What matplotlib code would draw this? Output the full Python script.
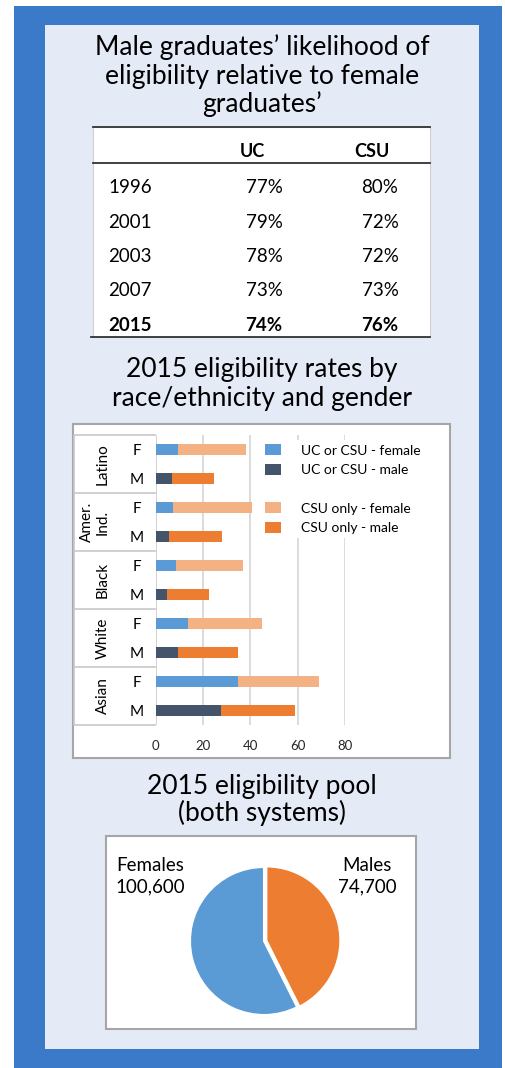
import matplotlib.pyplot as plt
import matplotlib.patches as mpatches
from matplotlib.transforms import blended_transform_factory
import numpy as np

plt.rcParams["font.family"] = ["Lato", "DejaVu Sans"]

# table data
years = ["1996", "2001", "2003", "2007", "2015"]
uc_ratio = ["77%", "79%", "78%", "73%", "74%"]
csu_ratio = ["80%", "72%", "72%", "73%", "76%"]

# bar chart data (percent eligible)
groups = ["Latino", "Amer.\nInd.", "Black", "White", "Asian"]
genders = ["F", "M"]
uc_female = [9.6, 7.5, 8.6, 13.8, 34.8]
uc_male = [6.8, 5.6, 4.6, 9.6, 27.7]
csu_female = [28.4, 33.2, 28.3, 31.1, 34.4]
csu_male = [17.7, 22.3, 17.9, 25.2, 31.2]
xticks = [0, 20, 40, 60, 80]

# pie data
pool_labels = ["Males", "Females"]
pool_values = [74700, 100600]

W, H = 506, 1068
BLUE = "#3B7AC8"
PANEL = "#E4EAF6"
C_UCF, C_UCM = "#5B9BD5", "#44546A"
C_CSUF, C_CSUM = "#F4B183", "#ED7D31"

fig = plt.figure(figsize=(W / 100, H / 100), dpi=100)
fig.patch.set_facecolor("white")


def px_axes(x0, y0, x1, y1):
    return fig.add_axes([x0 / W, 1 - y1 / H, (x1 - x0) / W, (y1 - y0) / H])


bg = px_axes(0, 0, W, H)
bg.set_xlim(0, W)
bg.set_ylim(H, 0)
bg.axis("off")

bg.add_patch(mpatches.Rectangle((14, 6), 488, 1062, color=BLUE, lw=0))
bg.add_patch(mpatches.Rectangle((45, 25), 434, 1024, color=PANEL, lw=0))

TITLE_FS = 19

# ---- title 1 + table
for txt, yb in zip(["Male graduates\u2019 likelihood of",
                    "eligibility relative to female",
                    "graduates\u2019"], [55, 84, 112]):
    bg.text(262, yb, txt, ha="center", va="baseline", fontsize=TITLE_FS)

bg.add_patch(mpatches.Rectangle((93, 127), 337, 210, facecolor="white",
                                edgecolor="#D0D0D0", lw=0.8))
bg.plot([93, 430], [127, 127], color="#333333", lw=1.3)
bg.plot([93, 430], [163, 163], color="#333333", lw=1.3)
bg.plot([91, 430], [337, 337], color="#333333", lw=1.3)
bg.text(252, 157, "UC", ha="center", va="baseline", fontsize=13, fontweight="bold")
bg.text(372, 157, "CSU", ha="center", va="baseline", fontsize=13, fontweight="bold")
row_y = np.linspace(193, 331, len(years))
for i, (yr, u, c) in enumerate(zip(years, uc_ratio, csu_ratio)):
    fw = "bold" if i == len(years) - 1 else "normal"
    bg.text(108, row_y[i], yr, ha="left", va="baseline", fontsize=13.5, fontweight=fw)
    bg.text(264, row_y[i], u, ha="center", va="baseline", fontsize=13.5, fontweight=fw)
    bg.text(380, row_y[i], c, ha="center", va="baseline", fontsize=13.5, fontweight=fw)

# ---- title 2 + bar chart
bg.text(262, 377, "2015 eligibility rates by", ha="center", va="baseline", fontsize=TITLE_FS)
bg.text(262, 406, "race/ethnicity and gender", ha="center", va="baseline", fontsize=TITLE_FS)
bg.add_patch(mpatches.Rectangle((73, 424), 377, 334, facecolor="white",
                                edgecolor="#A6A6A6", lw=1.5))

ax = px_axes(155.7, 435, 345, 725)
ax.set_facecolor("none")
n = len(groups)
y_f = np.arange(n) * 2
y_m = y_f + 1
bh = 0.38
b1 = ax.barh(y_f, uc_female, height=bh, color=C_UCF, zorder=3)
b2 = ax.barh(y_m, uc_male, height=bh, color=C_UCM, zorder=3)
b3 = ax.barh(y_f, csu_female, left=uc_female, height=bh, color=C_CSUF, zorder=3)
b4 = ax.barh(y_m, csu_male, left=uc_male, height=bh, color=C_CSUM, zorder=3)
ax.set_xlim(0, 80)
ax.set_ylim(2 * n - 0.5, -0.5)
ax.set_xticks(xticks)
ax.set_xticklabels([str(t) for t in xticks], fontsize=9.5, color="#262626")
ax.tick_params(axis="x", length=0, pad=11)
ax.set_yticks(np.arange(2 * n))
ax.set_yticklabels(genders * n, fontsize=11)
ax.tick_params(axis="y", length=0, pad=13.5)
for lbl in ax.get_yticklabels():
    lbl.set_ha("center")
ax.grid(axis="x", color="#D9D9D9", lw=1.3, zorder=0)
for s in ax.spines.values():
    s.set_visible(False)
ax.axvline(0, color="#D0D0D0", lw=1.2, zorder=2)

tr = blended_transform_factory(fig.transFigure, ax.transData)
for k in range(n + 1):
    ax.plot([74 / W, 155 / W], [2 * k - 0.5] * 2, transform=tr, color="#C8C8C8",
            lw=1.2, clip_on=False)
ax.plot([74 / W, 74 / W], [-0.5, 2 * n - 0.5], transform=tr, color="#C8C8C8",
        lw=1.2, clip_on=False)
for k, g in enumerate(groups):
    gx = 95 if "\n" in g else 103
    ax.text(gx / W, 2 * k + 0.5, g, transform=tr, rotation=90, ha="center",
            va="center", fontsize=11, linespacing=1.2)

blank = mpatches.Patch(color="none")
ax.legend([b1, b2, blank, b3, b4],
          ["UC or CSU - female", "UC or CSU - male", "",
           "CSU only - female", "CSU only - male"],
          loc="upper left", bbox_to_anchor=(261 / W, 1 - 440 / H),
          bbox_transform=fig.transFigure, fontsize=10, frameon=True,
          facecolor="white", edgecolor="none", framealpha=1, fancybox=False,
          handlelength=1.15, handleheight=0.86, handletextpad=1.45,
          labelspacing=0.5, borderpad=0.3, borderaxespad=0)

# ---- title 3 + pie
bg.text(262, 794, "2015 eligibility pool", ha="center", va="baseline", fontsize=TITLE_FS)
bg.text(262, 821, "(both systems)", ha="center", va="baseline", fontsize=TITLE_FS)
bg.add_patch(mpatches.Rectangle((106, 836), 310, 193, facecolor="white",
                                edgecolor="#A6A6A6", lw=1.5))

pax = px_axes(264 - 80, 941 - 80, 264 + 80, 941 + 80)
pax.pie(pool_values, colors=[C_CSUM, C_UCF], startangle=90, counterclock=False,
        radius=74 / 80, explode=(0.03, 0),
        wedgeprops=dict(edgecolor="white", linewidth=1.5))
pax.set_xlim(-1, 1)
pax.set_ylim(-1, 1)
pax.set_aspect("equal")

bg.text(150, 876, "Females\n{:,}".format(pool_values[1]), ha="center", va="center",
        fontsize=13.5, linespacing=1.35)
bg.text(367, 876, "Males\n{:,}".format(pool_values[0]), ha="center", va="center",
        fontsize=13.5, linespacing=1.35)

fig.savefig("out.png", dpi=100)
